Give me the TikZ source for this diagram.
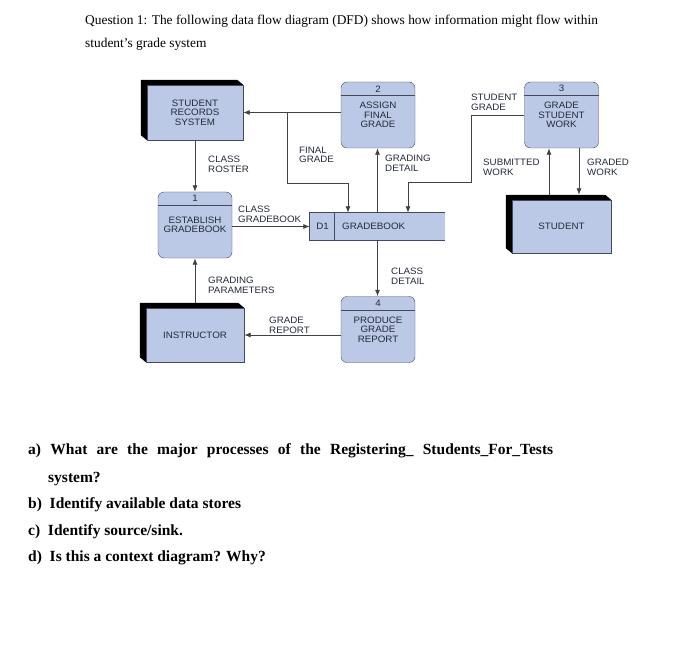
\documentclass[tikz,border=0pt]{standalone}
\usepackage{fontspec}
\setmainfont{Liberation Serif}
\newfontfamily\dfdfont[FakeStretch=1.05]{Liberation Sans}
\usetikzlibrary{arrows.meta}

\definecolor{dfdfill}{RGB}{187,201,231}
\definecolor{dfdedge}{RGB}{66,74,92}
\definecolor{flowline}{RGB}{66,66,66}
\definecolor{dfdink}{RGB}{36,42,58}
\newcommand{\dfdtext}{\dfdfont\fontsize{9.3}{9.4}\selectfont}

\begin{document}
\begin{tikzpicture}[x=1pt,y=-1pt]
\tikzstyle{entity} = [rectangle, draw=dfdedge, fill=dfdfill, inner sep=0pt,
align=center, text=dfdink, font=\dfdtext]
\tikzstyle{process} = [rectangle, draw=dfdedge, fill=dfdfill, rounded corners=6pt,
minimum width=74pt, minimum height=66pt, inner sep=0pt, align=center,
text=dfdink, font=\dfdtext]
\tikzstyle{store} = [rectangle, fill=dfdfill, minimum width=135pt,
minimum height=27pt, inner sep=0pt]
\tikzstyle{lbl} = [anchor=north west, inner sep=0pt, align=left, text=dfdink, font=\dfdtext]
\tikzstyle{flow} = [draw=flowline, line width=0.8pt, -{Latex[length=6.5pt,width=5pt]}]
\tikzstyle{question} = [anchor=base west, inner sep=0pt, font=\bfseries\fontsize{15.5}{18}\selectfont]
\useasboundingbox (0,0) rectangle (700,644);

% heading
\node[anchor=base west, inner sep=0pt, font=\fontsize{13.4}{16}\selectfont] (head1) at (85,25)
  {Question 1: The following data flow diagram (DFD) shows how information might flow within};
\node[anchor=base west, inner sep=0pt, font=\fontsize{13.4}{16}\selectfont] (head2) at (85,48)
  {student’s grade system};

% external entities
\node[entity, minimum width=96pt, minimum height=55pt] (srs) at (195,112.5) {STUDENT\\RECORDS\\SYSTEM};
\node[entity, minimum width=99pt, minimum height=53pt] (stud) at (561.5,226.5) {STUDENT};
\node[entity, minimum width=98pt, minimum height=54pt] (inst) at (195,335) {INSTRUCTOR};
\foreach \e in {srs,stud,inst}
  \fill[black] (\e.south west) -- ++(-6,-5) -- ([shift={(-6,-5)}]\e.north west)
    -- ([shift={(-6,-5)}]\e.north east) -- (\e.north east) -- (\e.north west) -- cycle;

% processes
\node[process] (p1) at (195,225) {ESTABLISH\\GRADEBOOK};
\node[process] (p2) at (378,115) {ASSIGN\\FINAL\\GRADE};
\node[process] (p3) at (561.5,115) {GRADE\\STUDENT\\WORK};
\node[process] (p4) at (378,329.5) {PRODUCE\\GRADE\\REPORT};
\foreach \p/\n in {p1/1,p2/2,p3/3,p4/4} {
  \draw[dfdedge, line width=0.8pt] ([yshift=-14pt]\p.north west) -- ([yshift=-14pt]\p.north east);
  \node[text=dfdink, font=\dfdtext, inner sep=0pt] (num\n) at ([yshift=-7pt]\p.north) {\n};
}

% data store
\node[store] (d1) at (377.5,226.5) {};
\draw[dfdedge, line width=0.8pt] (d1.north east) -- (d1.north west) -- (d1.south west) -- (d1.south east);
\draw[dfdedge, line width=0.8pt] ([xshift=25pt]d1.north west) -- ([xshift=25pt]d1.south west);
\node[text=dfdink, font=\dfdtext, inner sep=0pt] (d1id) at (322.5,226.5) {D1};
\node[text=dfdink, font=\dfdtext, inner sep=0pt, anchor=west] (d1name) at (342,226.5) {GRADEBOOK};

% data flows
\coordinate (fgsplit) at (287,112.5);
\coordinate (fgjog) at (348,183);
\coordinate (sgjog) at (471,182);
\coordinate (sgdrop) at (408,182);
\draw[flow] (srs.east -| p2.west) -- (srs.east);
\draw[flow] (fgsplit) |- (fgjog) -- (fgjog |- d1.north);
\draw[flow] (d1.north) -- (d1.north |- p2.south);
\draw[flow] (p3.west) -| (sgjog) -- (sgdrop) -- (sgdrop |- d1.north);
\draw[flow] ([shift={(-12.5,-5)}]stud.north) -- ([xshift=-12.5pt]p3.south);
\draw[flow] ([xshift=17.5pt]p3.south) -- ([shift={(17.5,-5)}]stud.north);
\draw[flow] (srs.south) -- (p1.north);
\draw[flow] (p1.east |- d1.west) -- (d1.west);
\draw[flow] ([yshift=5pt]inst.north) -- (p1.south);
\draw[flow] (d1.south) -- (d1.south |- p4.north);
\draw[flow] (inst.east -| p4.west) -- (inst.east);

% flow labels
\node[lbl] (lfinal) at (299,147) {FINAL\\GRADE};
\node[lbl] (ldetail) at (385,155) {GRADING\\DETAIL};
\node[lbl] (lsgrade) at (471,94) {STUDENT\\GRADE};
\node[lbl] (lsubmit) at (483,159) {SUBMITTED\\WORK};
\node[lbl] (lgraded) at (587,159) {GRADED\\WORK};
\node[lbl] (lroster) at (208,156) {CLASS\\ROSTER};
\node[lbl] (lbook) at (238,206) {CLASS\\GRADEBOOK};
\node[lbl] (lparam) at (208,277) {GRADING\\PARAMETERS};
\node[lbl] (lcdetail) at (391,268) {CLASS\\DETAIL};
\node[lbl] (lreport) at (269,317) {GRADE\\REPORT};

% questions
\node[question] (qa) at (28,454)
  {\makebox[525pt][s]{a)\ What are the major processes of the Registering\_ Students\_For\_Tests}};
\node[question] (qa2) at (48,482) {system?};
\node[question] (qb) at (28,508) {b)\ \ Identify available data stores};
\node[question] (qc) at (28,535) {c)\ \ Identify source/sink.};
\node[question] (qd) at (28,561) {d)\ \ Is this a context diagram? Why?};
\end{tikzpicture}
\end{document}
